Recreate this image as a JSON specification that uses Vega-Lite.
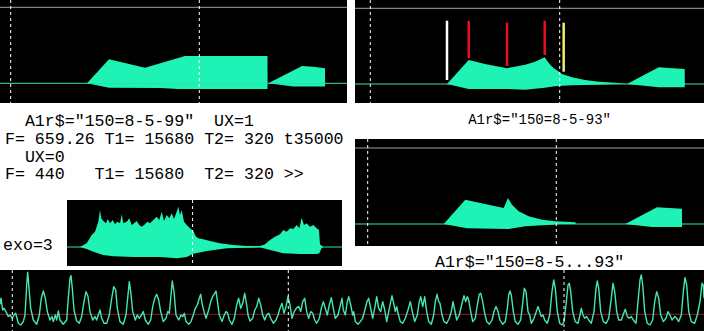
{
  "$schema": "https://vega.github.io/schema/vega-lite/v6.json",
  "background": "white",
  "padding": 0,
  "spacing": 0,
  "config": {"view": {"stroke": null}},
  "datasets": {
    "tl": [
      {"part": "A_up", "x": 87, "a": 0}, {"part": "A_up", "x": 109, "a": 24}, {"part": "A_up", "x": 145, "a": 15.6}, {"part": "A_up", "x": 185, "a": 27.3}, {"part": "A_up", "x": 267.5, "a": 27.3}, {"part": "A_up", "x": 267.6, "a": 0},
      {"part": "A_lo", "x": 87, "a": 0}, {"part": "A_lo", "x": 109, "a": -4.4}, {"part": "A_lo", "x": 160, "a": -4.7}, {"part": "A_lo", "x": 178, "a": -5.6}, {"part": "A_lo", "x": 267.5, "a": -5.6}, {"part": "A_lo", "x": 267.6, "a": 0},
      {"part": "B_up", "x": 268.3, "a": 0}, {"part": "B_up", "x": 302, "a": 17.3}, {"part": "B_up", "x": 313, "a": 16.5}, {"part": "B_up", "x": 325, "a": 15}, {"part": "B_up", "x": 325.1, "a": 0},
      {"part": "B_lo", "x": 268.3, "a": 0}, {"part": "B_lo", "x": 293, "a": -3.3}, {"part": "B_lo", "x": 325, "a": -3.3}, {"part": "B_lo", "x": 325.1, "a": 0}
    ],
    "tr": [
      {"part": "A_up", "x": 92, "a": 0}, {"part": "A_up", "x": 113.7, "a": 24}, {"part": "A_up", "x": 130, "a": 20}, {"part": "A_up", "x": 152, "a": 15.7}, {"part": "A_up", "x": 170, "a": 19.3}, {"part": "A_up", "x": 180, "a": 22.3}, {"part": "A_up", "x": 189.7, "a": 26.7}, {"part": "A_up", "x": 193, "a": 22}, {"part": "A_up", "x": 197, "a": 17.3}, {"part": "A_up", "x": 207, "a": 10}, {"part": "A_up", "x": 217, "a": 6.7}, {"part": "A_up", "x": 230, "a": 4}, {"part": "A_up", "x": 244, "a": 2.3}, {"part": "A_up", "x": 260, "a": 1.3}, {"part": "A_up", "x": 272, "a": 0},
      {"part": "A_lo", "x": 92, "a": 0}, {"part": "A_lo", "x": 113.7, "a": -5}, {"part": "A_lo", "x": 152, "a": -5}, {"part": "A_lo", "x": 170, "a": -5.7}, {"part": "A_lo", "x": 189.7, "a": -3.7}, {"part": "A_lo", "x": 200, "a": -2.3}, {"part": "A_lo", "x": 217, "a": -1.3}, {"part": "A_lo", "x": 240, "a": -0.7}, {"part": "A_lo", "x": 260, "a": 0},
      {"part": "B_up", "x": 272, "a": 0}, {"part": "B_up", "x": 303.7, "a": 16.7}, {"part": "B_up", "x": 310.3, "a": 16.3}, {"part": "B_up", "x": 329.7, "a": 15}, {"part": "B_up", "x": 329.8, "a": 0},
      {"part": "B_lo", "x": 272, "a": 0}, {"part": "B_lo", "x": 303.7, "a": -3.3}, {"part": "B_lo", "x": 329.7, "a": -3.3}, {"part": "B_lo", "x": 329.8, "a": 0}
    ],
    "trmarks": [
      {"kind": "start", "x": 92, "top": 63.3, "bot": 4},
      {"kind": "peak", "x": 113.7, "top": 63.3, "bot": 25.7},
      {"kind": "peak", "x": 152, "top": 61.3, "bot": 18},
      {"kind": "peak", "x": 189.7, "top": 63.3, "bot": 29},
      {"kind": "end", "x": 208.7, "top": 61.3, "bot": 12.3}
    ],
    "mr": [
      {"part": "A_up", "x": 88.7, "a": 0}, {"part": "A_up", "x": 110.3, "a": 24.3}, {"part": "A_up", "x": 148.7, "a": 16}, {"part": "A_up", "x": 153, "a": 26}, {"part": "A_up", "x": 157, "a": 19.3}, {"part": "A_up", "x": 163.7, "a": 12.7}, {"part": "A_up", "x": 173.7, "a": 7.7}, {"part": "A_up", "x": 187, "a": 4.3}, {"part": "A_up", "x": 200.3, "a": 2.7}, {"part": "A_up", "x": 220.3, "a": 1.7}, {"part": "A_up", "x": 221, "a": 0},
      {"part": "A_lo", "x": 88.7, "a": 0}, {"part": "A_lo", "x": 112, "a": -4.3}, {"part": "A_lo", "x": 153.7, "a": -5}, {"part": "A_lo", "x": 170.3, "a": -2.3}, {"part": "A_lo", "x": 197, "a": -0.7}, {"part": "A_lo", "x": 203.7, "a": 0},
      {"part": "B_up", "x": 270.3, "a": 0}, {"part": "B_up", "x": 302, "a": 16.7}, {"part": "B_up", "x": 310.3, "a": 16.3}, {"part": "B_up", "x": 327, "a": 15.3}, {"part": "B_up", "x": 327.1, "a": 0},
      {"part": "B_lo", "x": 270.3, "a": 0}, {"part": "B_lo", "x": 297, "a": -3}, {"part": "B_lo", "x": 327, "a": -3}, {"part": "B_lo", "x": 327.1, "a": 0}
    ],
    "exo": [
      {"part": "up", "x": 13, "a": 0}, {"part": "up", "x": 19.7, "a": 3.7}, {"part": "up", "x": 24.7, "a": 12}, {"part": "up", "x": 28, "a": 15.3}, {"part": "up", "x": 29.7, "a": 20.3}, {"part": "up", "x": 31.3, "a": 25.3}, {"part": "up", "x": 33, "a": 37}, {"part": "up", "x": 34.3, "a": 28.7}, {"part": "up", "x": 36.3, "a": 26}, {"part": "up", "x": 39, "a": 23.7}, {"part": "up", "x": 40.7, "a": 28}, {"part": "up", "x": 43, "a": 23.7}, {"part": "up", "x": 45.7, "a": 27}, {"part": "up", "x": 48, "a": 22.7}, {"part": "up", "x": 50.3, "a": 25.3}, {"part": "up", "x": 53, "a": 23.7}, {"part": "up", "x": 54.7, "a": 32.7}, {"part": "up", "x": 56.3, "a": 23.7}, {"part": "up", "x": 59.7, "a": 25.3}, {"part": "up", "x": 62.3, "a": 28.7}, {"part": "up", "x": 64.7, "a": 22}, {"part": "up", "x": 67, "a": 23.7}, {"part": "up", "x": 69.7, "a": 26}, {"part": "up", "x": 72.3, "a": 22}, {"part": "up", "x": 74.7, "a": 20.3}, {"part": "up", "x": 78, "a": 22.7}, {"part": "up", "x": 80.3, "a": 25.3}, {"part": "up", "x": 83, "a": 23.7}, {"part": "up", "x": 86.3, "a": 27}, {"part": "up", "x": 89.7, "a": 30.3}, {"part": "up", "x": 92.3, "a": 27}, {"part": "up", "x": 94.7, "a": 35.3}, {"part": "up", "x": 97, "a": 26}, {"part": "up", "x": 99.7, "a": 32}, {"part": "up", "x": 102.3, "a": 28.7}, {"part": "up", "x": 104.7, "a": 33.7}, {"part": "up", "x": 107, "a": 28}, {"part": "up", "x": 109.7, "a": 35.3}, {"part": "up", "x": 111.3, "a": 40.3}, {"part": "up", "x": 113, "a": 32}, {"part": "up", "x": 114.7, "a": 37}, {"part": "up", "x": 117, "a": 25.3}, {"part": "up", "x": 119.7, "a": 22}, {"part": "up", "x": 123, "a": 18.7}, {"part": "up", "x": 126.3, "a": 16}, {"part": "up", "x": 129, "a": 10.3}, {"part": "up", "x": 131.3, "a": 8.7}, {"part": "up", "x": 136.3, "a": 7.7}, {"part": "up", "x": 143, "a": 6}, {"part": "up", "x": 153, "a": 3.7}, {"part": "up", "x": 166.3, "a": 2}, {"part": "up", "x": 179.7, "a": 1}, {"part": "up", "x": 193, "a": 1}, {"part": "up", "x": 198, "a": 2.7}, {"part": "up", "x": 203, "a": 7}, {"part": "up", "x": 208, "a": 10.3}, {"part": "up", "x": 213, "a": 12.7}, {"part": "up", "x": 216.3, "a": 17}, {"part": "up", "x": 219.7, "a": 15.3}, {"part": "up", "x": 223, "a": 18.7}, {"part": "up", "x": 226.3, "a": 18}, {"part": "up", "x": 229.7, "a": 22}, {"part": "up", "x": 232.3, "a": 18.7}, {"part": "up", "x": 234.7, "a": 29.3}, {"part": "up", "x": 237, "a": 22}, {"part": "up", "x": 239.7, "a": 23.7}, {"part": "up", "x": 243, "a": 20.3}, {"part": "up", "x": 246.3, "a": 22}, {"part": "up", "x": 249.7, "a": 18.7}, {"part": "up", "x": 252, "a": 17}, {"part": "up", "x": 253, "a": 2.7}, {"part": "up", "x": 256.3, "a": 0},
      {"part": "lo", "x": 13, "a": 0}, {"part": "lo", "x": 19.7, "a": -2}, {"part": "lo", "x": 26.3, "a": -4.7}, {"part": "lo", "x": 36.3, "a": -8}, {"part": "lo", "x": 46.3, "a": -9.3}, {"part": "lo", "x": 66.3, "a": -10}, {"part": "lo", "x": 93, "a": -10}, {"part": "lo", "x": 109.7, "a": -11.3}, {"part": "lo", "x": 119.7, "a": -10}, {"part": "lo", "x": 126.3, "a": -6.7}, {"part": "lo", "x": 139.7, "a": -4}, {"part": "lo", "x": 159.7, "a": -1.3}, {"part": "lo", "x": 193, "a": -0.3}, {"part": "lo", "x": 203, "a": -3}, {"part": "lo", "x": 216.3, "a": -6.3}, {"part": "lo", "x": 233, "a": -7}, {"part": "lo", "x": 249.7, "a": -7}, {"part": "lo", "x": 252.3, "a": -6.3}, {"part": "lo", "x": 254.7, "a": -1}, {"part": "lo", "x": 256.3, "a": 0}
    ],
    "wave": [
      {"x":0,"v":10},{"x":1,"v":16},{"x":2.7,"v":4.3},{"x":4,"v":6},{"x":6,"v":2.7},{"x":8.3,"v":-2.3},{"x":10,"v":-0.7},{"x":12.3,"v":-4},{"x":14,"v":-0.7},{"x":15.7,"v":1},{"x":18.3,"v":-9},{"x":20.7,"v":-10.7},{"x":23.3,"v":-7.3},{"x":25,"v":-0.7},{"x":26.7,"v":29.3},{"x":27.7,"v":42},{"x":29,"v":26},{"x":30.7,"v":6},{"x":33.3,"v":-5.7},{"x":36.7,"v":-10},{"x":39.3,"v":-0.7},{"x":41.3,"v":16},{"x":43.3,"v":23.3},{"x":45.3,"v":16},{"x":47.3,"v":2.7},{"x":50,"v":-5.7},{"x":52,"v":-2.3},{"x":53.3,"v":-7.3},{"x":55.3,"v":-0.7},{"x":56.7,"v":-5.7},{"x":58.3,"v":3.3},{"x":60,"v":-5.7},{"x":63.3,"v":-10},{"x":66.7,"v":-5.7},{"x":68.3,"v":16},{"x":70,"v":36},{"x":71,"v":38.7},{"x":72.3,"v":26},{"x":74,"v":4.3},{"x":76.7,"v":-6.7},{"x":79.3,"v":-9},{"x":81.7,"v":-2.3},{"x":84,"v":12.7},{"x":86,"v":22.7},{"x":88,"v":17.7},{"x":90,"v":2.7},{"x":92.7,"v":-5.7},{"x":95,"v":-2.3},{"x":96.7,"v":-5.7},{"x":98.3,"v":-0.7},{"x":100,"v":4.3},{"x":101.7,"v":-4},{"x":104,"v":-9},{"x":106.7,"v":-9},{"x":109.3,"v":-0.7},{"x":111.7,"v":16},{"x":113.7,"v":27.7},{"x":115.7,"v":24.3},{"x":117.3,"v":6},{"x":120,"v":-7.3},{"x":123.3,"v":-10},{"x":126,"v":-0.7},{"x":128,"v":19.3},{"x":129.3,"v":32.7},{"x":130.7,"v":22.7},{"x":132.7,"v":2.7},{"x":135.3,"v":-5.7},{"x":137.3,"v":-0.7},{"x":139.3,"v":-4},{"x":141.7,"v":0},{"x":143.3,"v":2.7},{"x":145.3,"v":-5.7},{"x":148.3,"v":-10},{"x":150.7,"v":-5.7},{"x":152.7,"v":7.7},{"x":154.7,"v":16},{"x":156.7,"v":20},{"x":158.7,"v":14.3},{"x":160.7,"v":2.7},{"x":163.3,"v":-7.3},{"x":166,"v":-4},{"x":167.7,"v":2.7},{"x":169.3,"v":1},{"x":171,"v":19.3},{"x":172.3,"v":33.3},{"x":174,"v":22.7},{"x":176,"v":-0.7},
      {"x":178.7,"v":-5.7},{"x":181,"v":-0.7},{"x":182.7,"v":-2.3},{"x":184.3,"v":1},{"x":186,"v":-7.3},{"x":188.7,"v":-10},{"x":191,"v":-7.3},{"x":193.3,"v":-0.7},{"x":195.3,"v":6},{"x":197.3,"v":9.3},{"x":199.3,"v":16},{"x":200.7,"v":20},{"x":202,"v":11},{"x":204,"v":2.7},{"x":206,"v":-4},{"x":208.7,"v":4.3},{"x":210.7,"v":12.7},{"x":212.7,"v":17.7},{"x":214.7,"v":21},{"x":216,"v":23.3},{"x":217.7,"v":11},{"x":219.3,"v":-0.7},{"x":222,"v":-7.3},{"x":224.3,"v":-0.7},{"x":226,"v":2.7},{"x":227.7,"v":1},{"x":229.3,"v":-5.7},{"x":232,"v":-10},{"x":234.3,"v":-4},{"x":236.7,"v":9.3},{"x":238.7,"v":16},{"x":240.7,"v":6},{"x":242.7,"v":11},{"x":244.7,"v":21},{"x":246.7,"v":9.3},{"x":248,"v":-0.7},{"x":250,"v":-6.7},{"x":252.7,"v":-4},{"x":254.7,"v":4.3},{"x":256.7,"v":7.7},{"x":258.7,"v":16},{"x":260.7,"v":9.3},{"x":262.7,"v":-0.7},{"x":264.7,"v":-5.7},{"x":266.7,"v":-0.7},{"x":268.7,"v":1},{"x":270.7,"v":-4},{"x":273.3,"v":-9},{"x":276,"v":-5.7},{"x":278,"v":-0.7},{"x":280,"v":6},{"x":282,"v":11},{"x":284,"v":1},{"x":286,"v":7.7},{"x":288,"v":17.7},{"x":290,"v":9.3},{"x":292,"v":-4},{"x":294.3,"v":2.7},{"x":296.7,"v":6.7},{"x":298.7,"v":7.7},{"x":300.7,"v":2.7},{"x":302.7,"v":12.7},{"x":304.7,"v":16},{"x":306.7,"v":2.7},{"x":308.7,"v":-4},{"x":310.7,"v":2.7},{"x":312.7,"v":1},{"x":314.7,"v":-5.7},{"x":316.7,"v":-9},{"x":319.3,"v":-4},{"x":321.3,"v":6},{"x":323.3,"v":12.7},{"x":325.3,"v":6},{"x":327.3,"v":-0.7},{"x":329.3,"v":9.3},{"x":331.3,"v":16.7},{"x":333.3,"v":6},{"x":335.3,"v":-4},{"x":338,"v":-0.7},{"x":340,"v":7.7},{"x":342,"v":16},{"x":343.3,"v":4.3},{"x":345.3,"v":-0.7},{"x":347.3,"v":12.7},{"x":348.7,"v":17.7},{"x":350.7,"v":9.3},{"x":352.7,"v":-0.7},
      {"x":353.7,"v":2.7},{"x":355.3,"v":-7.3},{"x":358,"v":-10},{"x":360.3,"v":-7.3},{"x":362.7,"v":-4},{"x":365.3,"v":6},{"x":367,"v":12.7},{"x":368.7,"v":16},{"x":370.7,"v":6},{"x":372.7,"v":-4},{"x":374.7,"v":6},{"x":376.7,"v":17.7},{"x":378.7,"v":6},{"x":380.7,"v":2.7},{"x":382.7,"v":12.7},{"x":384.7,"v":4.3},{"x":386.7,"v":-7.3},{"x":388.7,"v":2.7},{"x":390.7,"v":12.7},{"x":392,"v":18.7},{"x":394,"v":9.3},{"x":395.3,"v":2.7},{"x":396.7,"v":7.7},{"x":398,"v":1},{"x":400.3,"v":-7.3},{"x":402.7,"v":-9},{"x":405.3,"v":-4},{"x":408,"v":4.3},{"x":410.3,"v":12.7},{"x":412.3,"v":2.7},{"x":414.7,"v":-7.3},{"x":417.3,"v":-0.7},{"x":419.3,"v":12.7},{"x":420.7,"v":17.7},{"x":422.7,"v":7.7},{"x":424.7,"v":17.7},{"x":426.7,"v":2.7},{"x":428.7,"v":-7.3},{"x":431.3,"v":-10},{"x":433.7,"v":-0.7},{"x":435.3,"v":12.7},{"x":437,"v":20},{"x":438.7,"v":12.7},{"x":440,"v":11},{"x":442,"v":-0.7},{"x":444,"v":-7.3},{"x":446.7,"v":-9},{"x":449.3,"v":-4},{"x":451.3,"v":2.7},{"x":453,"v":12.7},{"x":454.7,"v":4.3},{"x":456.7,"v":-5.7},{"x":459.3,"v":-0.7},{"x":462,"v":11},{"x":464,"v":18.7},{"x":465.7,"v":12.7},{"x":467.3,"v":17.7},{"x":468.7,"v":14.3},{"x":470.7,"v":2.7},{"x":472.7,"v":-7.3},{"x":475.3,"v":-4},{"x":477.3,"v":9.3},{"x":479.3,"v":20},{"x":480.7,"v":21},{"x":482.7,"v":12.7},{"x":484.7,"v":1},{"x":486.7,"v":-7.3},{"x":489.3,"v":-10},{"x":492,"v":-5.7},{"x":494,"v":2.7},{"x":496,"v":7.7},{"x":498,"v":2.7},{"x":500,"v":-5.7},{"x":502.7,"v":-10},{"x":505.3,"v":-7.3},{"x":507.3,"v":6},{"x":508.7,"v":19.3},{"x":510,"v":23.3},{"x":511.3,"v":19.3},{"x":513.3,"v":2.7},{"x":515.3,"v":-7.3},{"x":518,"v":-10},{"x":520.7,"v":-5.7},{"x":522.7,"v":11},{"x":524.3,"v":26},{"x":526,"v":22.7},{"x":528,"v":2.7},
      {"x":529.7,"v":-0.7},{"x":531.3,"v":-9},{"x":534,"v":-4},{"x":536.3,"v":2.7},{"x":538,"v":7.7},{"x":539.7,"v":2.7},{"x":541.3,"v":-2.3},{"x":543,"v":-0.7},{"x":544.7,"v":-5.7},{"x":547.3,"v":-9},{"x":549.7,"v":-0.7},{"x":552,"v":22.7},{"x":553.7,"v":34.3},{"x":555.3,"v":26},{"x":557.3,"v":2.7},{"x":559.7,"v":-9},{"x":562,"v":-10.7},{"x":564,"v":-7.3},{"x":566,"v":9.3},{"x":568,"v":29.3},{"x":569.3,"v":31},{"x":570.7,"v":22.7},{"x":572.7,"v":2.7},{"x":575.3,"v":-7.3},{"x":578,"v":-9},{"x":580,"v":-0.7},{"x":581.3,"v":6},{"x":583,"v":-0.7},{"x":584.7,"v":-4},{"x":586.7,"v":-2.3},{"x":588.7,"v":-5.7},{"x":591.3,"v":-9},{"x":594,"v":2.7},{"x":596,"v":26},{"x":597.3,"v":33.3},{"x":598.7,"v":26},{"x":600.7,"v":2.7},{"x":603.3,"v":-7.3},{"x":606,"v":-9},{"x":608.7,"v":-4},{"x":611.3,"v":16},{"x":613,"v":31},{"x":614.7,"v":22.7},{"x":616.7,"v":2.7},{"x":618.7,"v":-5.7},{"x":621.3,"v":-5.7},{"x":623.7,"v":1},{"x":625.3,"v":5},{"x":627.3,"v":-2.3},{"x":629.3,"v":-4},{"x":631.3,"v":-2.3},{"x":633.3,"v":-5.7},{"x":636,"v":-9},{"x":638,"v":12.7},{"x":640,"v":34.3},{"x":641.3,"v":39.3},{"x":642.7,"v":29.3},{"x":644.7,"v":2.7},{"x":647.3,"v":-9},{"x":650,"v":-10.7},{"x":652.7,"v":-5.7},{"x":654.7,"v":12.7},{"x":656.7,"v":22.7},{"x":658.7,"v":16},{"x":660.7,"v":-0.7},{"x":663.3,"v":-7.3},{"x":666,"v":-4},{"x":668,"v":2.7},{"x":670,"v":-0.7},{"x":672,"v":-5.7},{"x":674.7,"v":-2.3},{"x":676.7,"v":-4},{"x":678.7,"v":-7.3},{"x":681.3,"v":-0.7},{"x":683.3,"v":22.7},{"x":685,"v":36.7},{"x":686.7,"v":29.3},{"x":688.7,"v":2.7},{"x":691.3,"v":-7.3},{"x":694.7,"v":-9},{"x":697.3,"v":-0.7},{"x":700,"v":12.7},{"x":702,"v":31},{"x":703.3,"v":29.3},{"x":704,"v":16}
    ]
  },
  "vconcat": [
    {
      "spacing": 8,
      "hconcat": [
        {
          "spacing": 0,
          "vconcat": [
            {
              "width": 347, "height": 103,
              "view": {"fill": "black", "stroke": null},
              "encoding": {
                "x": {"type": "quantitative", "scale": {"domain": [0, 347], "nice": false, "zero": false}, "axis": null},
                "y": {"type": "quantitative", "scale": {"domain": [-19.7, 83.3], "nice": false, "zero": false}, "axis": null}
              },
              "layer": [
                {"data": {"values": [{}]}, "mark": {"type": "rule", "clip": true, "color": "#3ee0a4", "strokeWidth": 1}, "encoding": {"y": {"datum": 0}}},
                {"data": {"values": [{}]}, "mark": {"type": "rule", "clip": true, "color": "#a0a0b4", "strokeWidth": 1}, "encoding": {"y": {"datum": 76}}},
                {"data": {"name": "tl"}, "mark": {"type": "area", "clip": true, "color": "#1ef2b4", "opacity": 1}, "encoding": {"x": {"field": "x", "type": "quantitative"}, "y": {"field": "a", "type": "quantitative"}, "y2": {"datum": 0}, "detail": {"field": "part"}}},
                {"data": {"values": [{"x": 10.7}, {"x": 199.3}]}, "mark": {"type": "rule", "clip": true, "color": "white", "strokeWidth": 1, "strokeDash": [3, 3]}, "encoding": {"x": {"field": "x", "type": "quantitative"}}}
              ]
            },
            {
              "width": 347, "height": 97,
              "data": {"values": [
                {"row": 1, "col": 2, "t": "A1r$=\"150=8-5-99\"\u00a0\u00a0UX=1"},
                {"row": 2, "col": 0, "t": "F=\u00a0659.26\u00a0T1=\u00a015680\u00a0T2=\u00a0320\u00a0t35000"},
                {"row": 3, "col": 2, "t": "UX=0"},
                {"row": 4, "col": 0, "t": "F=\u00a0440\u00a0\u00a0\u00a0T1=\u00a015680\u00a0\u00a0T2=\u00a0320\u00a0>>"}
              ]},
              "mark": {"type": "text", "clip": true, "align": "left", "baseline": "alphabetic", "font": "Liberation Mono", "fontSize": 16.6, "color": "black"},
              "encoding": {
                "x": {"field": "col", "type": "quantitative", "scale": {"domain": [-0.5, 34.36], "nice": false, "zero": false}, "axis": null},
                "y": {"field": "row", "type": "quantitative", "scale": {"domain": [-0.294, 5.164], "reverse": true, "nice": false, "zero": false}, "axis": null},
                "text": {"field": "t"}
              }
            },
            {
              "spacing": 0,
              "hconcat": [
                {
                  "width": 67, "height": 66,
                  "data": {"values": [{"row": 1, "col": 0, "t": "exo=3"}]},
                  "mark": {"type": "text", "clip": true, "align": "left", "baseline": "alphabetic", "font": "Liberation Mono", "fontSize": 16.6, "color": "black"},
                  "encoding": {
                    "x": {"field": "col", "type": "quantitative", "scale": {"domain": [-0.3, 6.33], "nice": false, "zero": false}, "axis": null},
                    "y": {"field": "row", "type": "quantitative", "scale": {"domain": [-1.814, 1.9], "reverse": true, "nice": false, "zero": false}, "axis": null},
                    "text": {"field": "t"}
                  }
                },
                {
                  "width": 275, "height": 66,
                  "view": {"fill": "black", "stroke": null},
                  "encoding": {
                    "x": {"type": "quantitative", "scale": {"domain": [0, 275], "nice": false, "zero": false}, "axis": null},
                    "y": {"type": "quantitative", "scale": {"domain": [-19, 47], "nice": false, "zero": false}, "axis": null}
                  },
                  "layer": [
                    {"data": {"values": [{}]}, "mark": {"type": "rule", "clip": true, "color": "#3ee0a4", "strokeWidth": 1}, "encoding": {"y": {"datum": 0}}},
                    {"data": {"name": "exo"}, "mark": {"type": "area", "clip": true, "color": "#1ef2b4"}, "encoding": {"x": {"field": "x", "type": "quantitative"}, "y": {"field": "a", "type": "quantitative"}, "y2": {"datum": 0}, "detail": {"field": "part"}}},
                    {"data": {"values": [{"x": 125.6}]}, "mark": {"type": "rule", "clip": true, "color": "white", "strokeWidth": 1, "strokeDash": [3, 3]}, "encoding": {"x": {"field": "x", "type": "quantitative"}}}
                  ]
                }
              ]
            }
          ]
        },
        {
          "spacing": 0,
          "vconcat": [
            {
              "width": 349, "height": 103,
              "view": {"fill": "black", "stroke": null},
              "encoding": {
                "x": {"type": "quantitative", "scale": {"domain": [0, 349], "nice": false, "zero": false}, "axis": null},
                "y": {"type": "quantitative", "scale": {"domain": [-19, 84], "nice": false, "zero": false}, "axis": null}
              },
              "layer": [
                {"data": {"values": [{}]}, "mark": {"type": "rule", "clip": true, "color": "#3ee0a4", "strokeWidth": 1}, "encoding": {"y": {"datum": 0}}},
                {"data": {"values": [{}]}, "mark": {"type": "rule", "clip": true, "color": "#a0a0b4", "strokeWidth": 1}, "encoding": {"y": {"datum": 75.7}}},
                {"data": {"name": "tr"}, "mark": {"type": "area", "clip": true, "color": "#1ef2b4"}, "encoding": {"x": {"field": "x", "type": "quantitative"}, "y": {"field": "a", "type": "quantitative"}, "y2": {"datum": 0}, "detail": {"field": "part"}}},
                {"data": {"name": "trmarks"}, "mark": {"type": "rule", "clip": true, "strokeWidth": 2.5}, "encoding": {"x": {"field": "x", "type": "quantitative"}, "y": {"field": "top", "type": "quantitative"}, "y2": {"field": "bot"}, "color": {"field": "kind", "type": "nominal", "scale": {"domain": ["start", "peak", "end"], "range": ["#ffffff", "#e8101c", "#eef060"]}, "legend": null}}},
                {"data": {"values": [{"x": 15.3}, {"x": 204.7}]}, "mark": {"type": "rule", "clip": true, "color": "white", "strokeWidth": 1, "strokeDash": [3, 3]}, "encoding": {"x": {"field": "x", "type": "quantitative"}}}
              ]
            },
            {
              "width": 349, "height": 36,
              "data": {"values": [{"row": 1, "col": 18.27, "t": "A1r$=\"150=8-5-93\""}]},
              "mark": {"type": "text", "clip": true, "align": "center", "baseline": "alphabetic", "font": "Liberation Mono", "fontSize": 14, "color": "black"},
              "encoding": {
                "x": {"field": "col", "type": "quantitative", "scale": {"domain": [0, 34.55], "nice": false, "zero": false}, "axis": null},
                "y": {"field": "row", "type": "quantitative", "scale": {"domain": [-0.182, 1.844], "reverse": true, "nice": false, "zero": false}, "axis": null},
                "text": {"field": "t"}
              }
            },
            {
              "width": 349, "height": 107,
              "view": {"fill": "black", "stroke": null},
              "encoding": {
                "x": {"type": "quantitative", "scale": {"domain": [0, 349], "nice": false, "zero": false}, "axis": null},
                "y": {"type": "quantitative", "scale": {"domain": [-22, 85], "nice": false, "zero": false}, "axis": null}
              },
              "layer": [
                {"data": {"values": [{}]}, "mark": {"type": "rule", "clip": true, "color": "#3ee0a4", "strokeWidth": 1}, "encoding": {"y": {"datum": 0}}},
                {"data": {"values": [{}]}, "mark": {"type": "rule", "clip": true, "color": "#a0a0b4", "strokeWidth": 1}, "encoding": {"y": {"datum": 76}}},
                {"data": {"name": "mr"}, "mark": {"type": "area", "clip": true, "color": "#1ef2b4"}, "encoding": {"x": {"field": "x", "type": "quantitative"}, "y": {"field": "a", "type": "quantitative"}, "y2": {"datum": 0}, "detail": {"field": "part"}}},
                {"data": {"values": [{"x": 12.7}, {"x": 201.3}]}, "mark": {"type": "rule", "clip": true, "color": "white", "strokeWidth": 1, "strokeDash": [3, 3]}, "encoding": {"x": {"field": "x", "type": "quantitative"}}}
              ]
            },
            {
              "width": 349, "height": 24,
              "data": {"values": [{"row": 1, "col": 17.28, "t": "A1r$=\"150=8-5...93\""}]},
              "mark": {"type": "text", "clip": true, "align": "center", "baseline": "alphabetic", "font": "Liberation Mono", "fontSize": 16.6, "color": "black"},
              "encoding": {
                "x": {"field": "col", "type": "quantitative", "scale": {"domain": [0, 34.55], "nice": false, "zero": false}, "axis": null},
                "y": {"field": "row", "type": "quantitative", "scale": {"domain": [-0.199, 1.152], "reverse": true, "nice": false, "zero": false}, "axis": null},
                "text": {"field": "t"}
              }
            }
          ]
        }
      ]
    },
    {
      "width": 704, "height": 61,
      "view": {"fill": "black", "stroke": null},
      "encoding": {
        "x": {"type": "quantitative", "scale": {"domain": [0, 704], "nice": false, "zero": false}, "axis": null},
        "y": {"type": "quantitative", "scale": {"domain": [-16.7, 44.3], "nice": false, "zero": false}, "axis": null}
      },
      "layer": [
        {"data": {"values": [{}]}, "mark": {"type": "rule", "clip": true, "color": "#8c1f1f", "strokeWidth": 1}, "encoding": {"y": {"datum": 0}}},
        {"data": {"name": "wave"}, "mark": {"type": "line", "clip": true, "color": "#44e8b0", "strokeWidth": 1.4, "strokeJoin": "round"}, "encoding": {"x": {"field": "x", "type": "quantitative"}, "y": {"field": "v", "type": "quantitative"}}},
        {"data": {"values": [{"x": 12.3}, {"x": 288.3}, {"x": 564}]}, "mark": {"type": "rule", "clip": true, "color": "white", "strokeWidth": 1, "strokeDash": [3, 3]}, "encoding": {"x": {"field": "x", "type": "quantitative"}}}
      ]
    }
  ]
}
